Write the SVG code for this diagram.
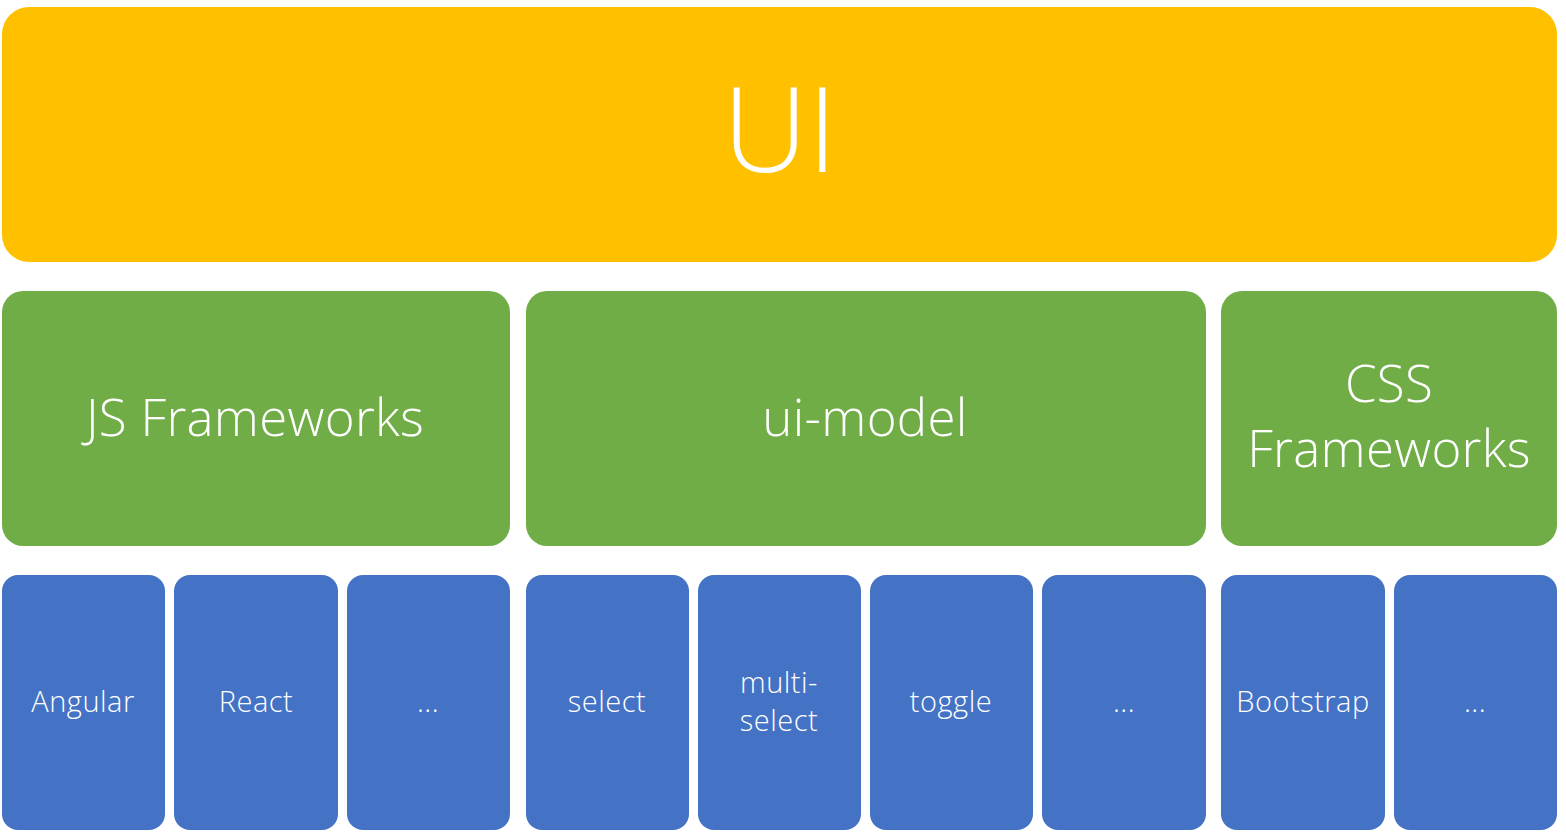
<svg xmlns="http://www.w3.org/2000/svg" width="1566" height="832" viewBox="0 0 1566 832">
<style>
.y{fill:#FFC000}
.g{fill:#70AD47}
.b{fill:#4472C4}
text{fill:#fff;font-family:"Open Sans","Noto Sans","Liberation Sans",sans-serif;font-weight:300;text-anchor:middle}
.t1{font-size:118px}
.t2{font-size:51px;letter-spacing:0.3px}
.t3{font-size:29px;letter-spacing:0.5px}
</style>
<rect width="1566" height="832" fill="#fff"/>
<g id="ui"><rect class="y" x="2" y="7" width="1555" height="255" rx="27"/><text class="t1" x="780" y="172">UI</text></g>
<g id="js"><rect class="g" x="2" y="291" width="508" height="255" rx="21"/><text class="t2" x="255" y="436">JS Frameworks</text></g>
<g id="uimodel"><rect class="g" x="526" y="291" width="680" height="255" rx="21"/><text class="t2" x="865" y="436">ui-model</text></g>
<g id="css"><rect class="g" x="1221" y="291" width="336" height="255" rx="21"/><text class="t2" x="1389" y="402">CSS</text><text class="t2" x="1389" y="467">Frameworks</text></g>
<g id="angular"><rect class="b" x="2" y="575" width="163" height="255" rx="16"/><text class="t3" x="83" y="712">Angular</text></g>
<g id="react"><rect class="b" x="174" y="575" width="164" height="255" rx="16"/><text class="t3" x="256" y="712">React</text></g>
<g id="js-more"><rect class="b" x="347" y="575" width="163" height="255" rx="16"/><text class="t3" x="428" y="712">...</text></g>
<g id="select"><rect class="b" x="526" y="575" width="163" height="255" rx="16"/><text class="t3" x="607" y="712">select</text></g>
<g id="multiselect"><rect class="b" x="698" y="575" width="163" height="255" rx="16"/><text class="t3" x="779" y="693">multi-</text><text class="t3" x="779" y="731">select</text></g>
<g id="toggle"><rect class="b" x="870" y="575" width="163" height="255" rx="16"/><text class="t3" x="951" y="712">toggle</text></g>
<g id="model-more"><rect class="b" x="1042" y="575" width="164" height="255" rx="16"/><text class="t3" x="1124" y="712">...</text></g>
<g id="bootstrap"><rect class="b" x="1221" y="575" width="164" height="255" rx="16"/><text class="t3" x="1303" y="712">Bootstrap</text></g>
<g id="css-more"><rect class="b" x="1394" y="575" width="163" height="255" rx="16"/><text class="t3" x="1475" y="712">...</text></g>
<g id="connectors"></g>
</svg>
